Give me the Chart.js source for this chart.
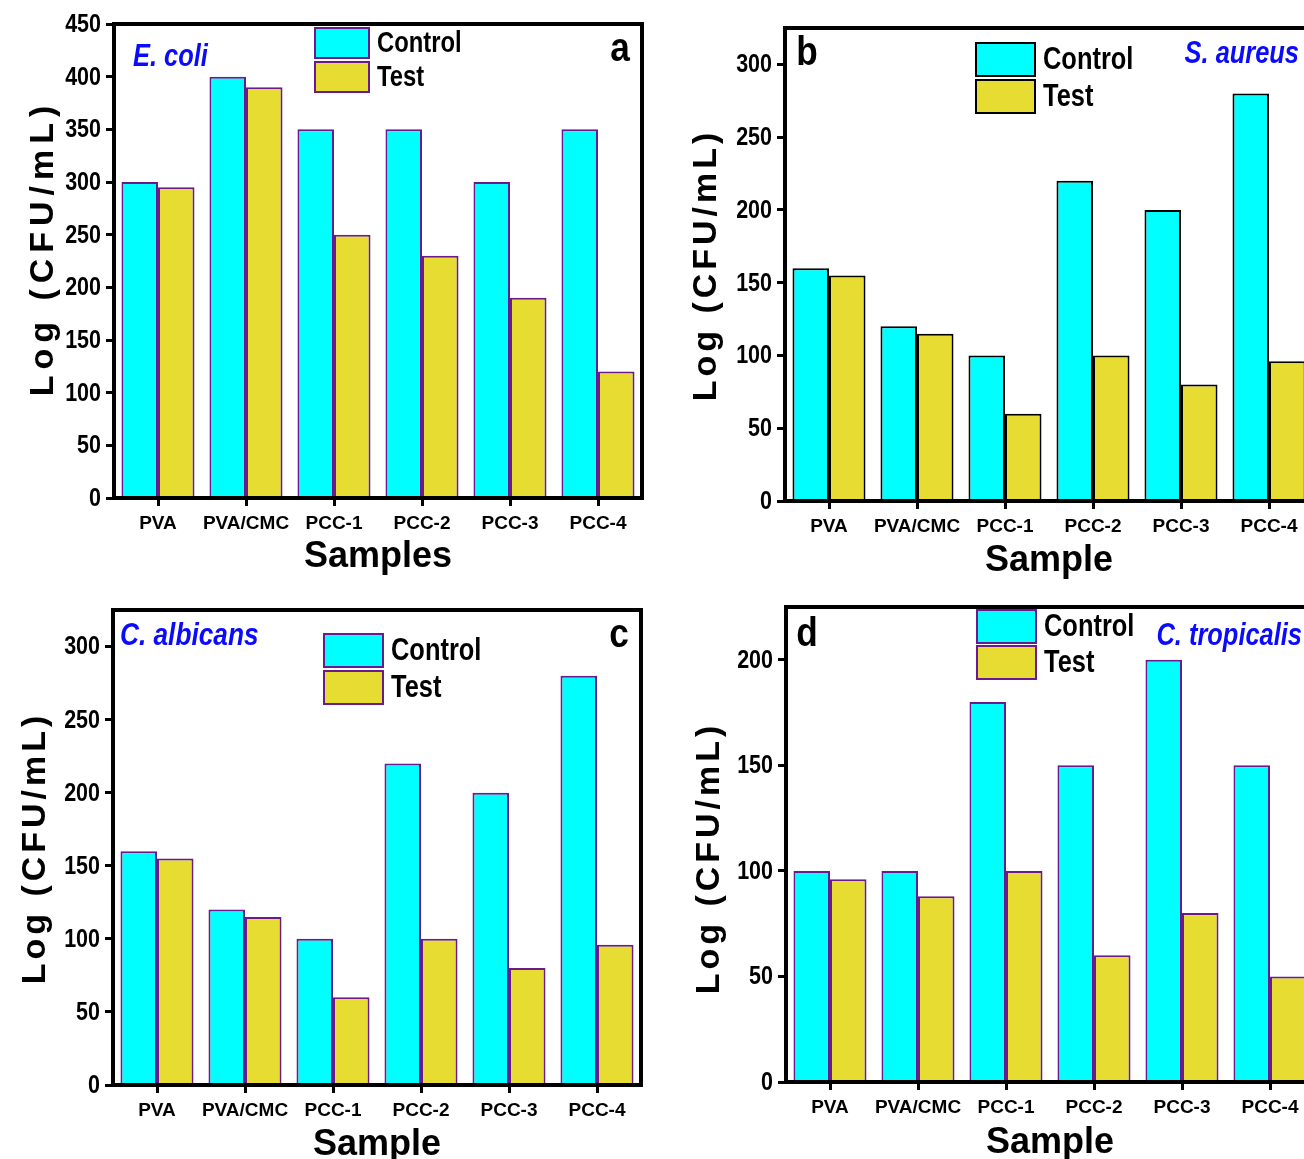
<!DOCTYPE html>
<html>
<head>
<meta charset="utf-8">
<script src="https://cdn.jsdelivr.net/npm/chart.js@4.4.1/dist/chart.umd.min.js"></script>
<style>
  html, body { margin: 0; padding: 0; background: #fff; }
  body { width: 1304px; height: 1159px; overflow: hidden; position: relative; }
  canvas { position: absolute; }
</style>
</head>
<body>
<canvas id="panelA" width="660" height="585" style="left:0;top:0"></canvas>
<canvas id="panelB" width="680" height="590" style="left:660px;top:0"></canvas>
<canvas id="panelC" width="660" height="590" style="left:0;top:585px"></canvas>
<canvas id="panelD" width="680" height="590" style="left:660px;top:585px"></canvas>
<script>
// values
var samples = ['PVA', 'PVA/CMC', 'PCC-1', 'PCC-2', 'PCC-3', 'PCC-4'];
var seriesNames = ['Control', 'Test'];

var ecoliControl = [300, 400, 350, 350, 300, 350];
var ecoliTest = [295, 390, 250, 230, 190, 120];

var aureusControl = [160, 120, 100, 220, 200, 280];
var aureusTest = [155, 115, 60, 100, 80, 96];

var albicansControl = [160, 120, 100, 220, 200, 280];
var albicansTest = [155, 115, 60, 100, 80, 96];

var tropicalisControl = [100, 100, 180, 150, 200, 150];
var tropicalisTest = [96, 88, 100, 60, 80, 50];

var CYAN = '#00ffff';
var YELLOW = '#e6dc32';
var PURPLE = '#6a1a8c';
var BLUE = '#0a0aff';
var SANS = "'Liberation Sans', Arial, sans-serif";

// no narrow font installed, so squeeze text horizontally
function narrowText(ctx, text, x, y, squeeze) {
  ctx.save();
  ctx.translate(x, y);
  ctx.scale(squeeze, 1);
  ctx.fillText(text, 0, 0);
  ctx.restore();
}

// frame, y tick labels, panel letter, species name, legend and rotated y title
var panelDecor = {
  id: 'panelDecor',
  afterDatasetsDraw: function (chart, args, o) {
    var ctx = chart.ctx;
    var a = chart.chartArea;
    var yScale = chart.scales.y;
    ctx.save();
    ctx.lineWidth = 4;
    ctx.strokeStyle = '#000';
    ctx.strokeRect(a.left, a.top, a.right - a.left, a.bottom - a.top);

    ctx.fillStyle = '#000';
    ctx.textBaseline = 'middle';
    ctx.textAlign = 'right';
    ctx.font = 'bold 25px ' + SANS;
    yScale.ticks.forEach(function (t) {
      narrowText(ctx, String(t.value), a.left - 13, yScale.getPixelForValue(t.value) + 1, 0.86);
    });

    ctx.textAlign = 'center';
    ctx.font = 'bold 40px ' + SANS;
    narrowText(ctx, o.letter, o.letterX, o.letterY, 0.88);

    ctx.fillStyle = BLUE;
    ctx.textAlign = o.speciesAlign;
    ctx.font = 'italic bold ' + o.speciesSize + 'px ' + SANS;
    narrowText(ctx, o.species, o.speciesX, o.speciesY, 0.82);

    chart.data.datasets.forEach(function (ds, i) {
      var y = o.legendY + i * o.legendStep;
      ctx.fillStyle = ds.backgroundColor;
      ctx.fillRect(o.legendX, y, o.boxW, o.boxH);
      ctx.lineWidth = 2;
      ctx.strokeStyle = ds.borderColor;
      ctx.strokeRect(o.legendX, y, o.boxW, o.boxH);
      ctx.fillStyle = '#000';
      ctx.textAlign = 'left';
      ctx.font = 'bold ' + o.legendSize + 'px ' + SANS;
      narrowText(ctx, ds.label, o.legendX + o.boxW + 8, y + o.boxH / 2 + 1, 0.82);
    });

    ctx.translate(o.yTitleX, o.yTitleY);
    ctx.rotate(-Math.PI / 2);
    ctx.textAlign = 'center';
    ctx.fillStyle = '#000';
    ctx.font = 'bold 34px ' + SANS;
    ctx.letterSpacing = o.spacing + 'px';
    ctx.fillText('Log (CFU/mL)', 0, 0);
    ctx.letterSpacing = '0px';
    ctx.restore();
  }
};

function buildPanel(id, control, test, yMax, edge, box, decor) {
  var el = document.getElementById(id);
  new Chart(el, {
    type: 'bar',
    data: {
      labels: samples,
      datasets: [
        { label: seriesNames[0], data: control, backgroundColor: CYAN, borderColor: edge, borderWidth: 2, categoryPercentage: 0.83, barPercentage: 1 },
        { label: seriesNames[1], data: test, backgroundColor: YELLOW, borderColor: edge, borderWidth: 2, categoryPercentage: 0.83, barPercentage: 1 }
      ]
    },
    options: {
      responsive: false,
      animation: false,
      layout: { padding: { top: box.top, right: box.right, left: 0, bottom: 0 } },
      plugins: {
        legend: { display: false },
        tooltip: { enabled: false },
        panelDecor: decor
      },
      scales: {
        x: {
          grid: { offset: false, drawOnChartArea: false, tickLength: 8, tickWidth: 3, tickColor: '#000' },
          border: { color: '#000', width: 4 },
          ticks: { color: '#000', font: { family: SANS, size: 19, weight: 'bold' }, padding: 6, maxRotation: 0, autoSkip: false },
          title: { display: true, text: box.xTitle, color: '#000', font: { family: SANS, size: 36, weight: 'bold' }, padding: { top: 0, bottom: box.titlePad } },
          afterFit: function (s) { s.height = box.xHeight; }
        },
        y: {
          min: 0,
          max: yMax,
          grid: { drawOnChartArea: false, tickLength: 8, tickWidth: 3, tickColor: '#000' },
          border: { color: '#000', width: 4 },
          ticks: { stepSize: 50, includeBounds: false, display: false },
          afterFit: function (s) { s.width = box.yWidth; }
        }
      }
    },
    plugins: [panelDecor]
  });
}

document.addEventListener('DOMContentLoaded', function () {
  buildPanel('panelA', ecoliControl, ecoliTest, 450, PURPLE,
    { top: 24, right: 18, yWidth: 114, xHeight: 87, titlePad: 6, xTitle: 'Samples' },
    { letter: 'a', letterX: 620, letterY: 50, species: 'E. coli', speciesSize: 31, speciesAlign: 'left', speciesX: 133, speciesY: 57,
      legendX: 315, legendY: 28, legendStep: 34, boxW: 54, boxH: 30, legendSize: 29, yTitleX: 44, yTitleY: 248, spacing: 6 });

  buildPanel('panelB', aureusControl, aureusTest, 325, '#000',
    { top: 28, right: 27, yWidth: 125, xHeight: 89, titlePad: 7, xTitle: 'Sample' },
    { letter: 'b', letterX: 147, letterY: 54, species: 'S. aureus', speciesSize: 31, speciesAlign: 'right', speciesX: 639, speciesY: 54,
      legendX: 316, legendY: 43, legendStep: 37, boxW: 59, boxH: 33, legendSize: 31, yTitleX: 47, yTitleY: 265, spacing: 4 });

  buildPanel('panelC', albicansControl, albicansTest, 325, PURPLE,
    { top: 25, right: 19, yWidth: 113, xHeight: 90, titlePad: 8, xTitle: 'Sample' },
    { letter: 'c', letterX: 619, letterY: 51, species: 'C. albicans', speciesSize: 32, speciesAlign: 'left', speciesX: 120, speciesY: 51,
      legendX: 324, legendY: 49, legendStep: 37, boxW: 59, boxH: 33, legendSize: 31, yTitleX: 36, yTitleY: 263, spacing: 4 });

  buildPanel('panelD', tropicalisControl, tropicalisTest, 225, PURPLE,
    { top: 22, right: 26, yWidth: 126, xHeight: 93, titlePad: 10, xTitle: 'Sample' },
    { letter: 'd', letterX: 147, letterY: 50, species: 'C. tropicalis', speciesSize: 31, speciesAlign: 'right', speciesX: 642, speciesY: 51,
      legendX: 317, legendY: 25, legendStep: 36, boxW: 59, boxH: 33, legendSize: 31, yTitleX: 50, yTitleY: 273, spacing: 4 });
});
</script>
</body>
</html>
